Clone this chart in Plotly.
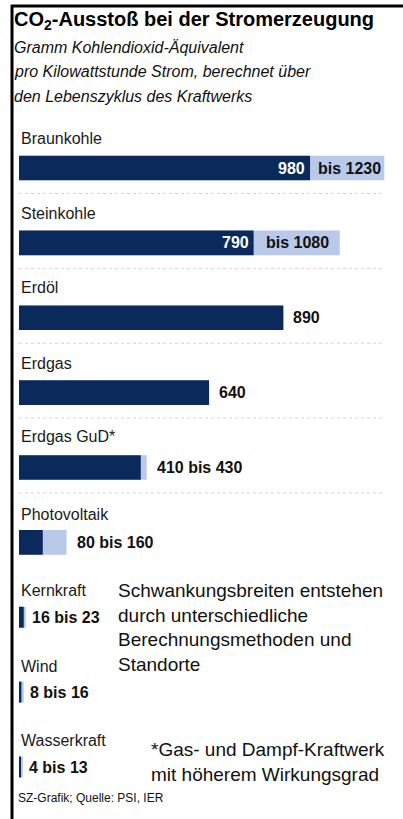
import plotly.graph_objects as go

# ---- data ----
categories = ["Braunkohle", "Steinkohle", "Erdöl", "Erdgas", "Erdgas GuD*",
              "Photovoltaik", "Kernkraft", "Wind", "Wasserkraft"]
low_values = [980, 790, 890, 640, 410, 80, 16, 8, 4]
high_values = [1230, 1080, 890, 640, 430, 160, 23, 16, 13]

# ---- styles / layout helpers ----
W, H = 403, 819
DARK = "#0b2a5c"
LIGHT = "#b9c9ea"
FONT = "Liberation Sans, Arial, sans-serif"

x0_px = 19          # pixel of value 0
px_per_unit = 0.297
top_center, step = 168, 74.875
n = len(categories)

def px(x):
    return x / W

def py(y):
    return 1 - y / H

y_top = top_center - step / 2
y_bot = top_center + step * (n - 1) + step / 2

bar_w = [0.33 if i < 6 else 0.28 for i in range(n)]
label_shift = [30, 29, 30, 29, 31, 28, 27, 26, 27]

fig = go.Figure()
fig.add_trace(go.Bar(y=categories, x=high_values, orientation="h",
                     marker=dict(color=LIGHT, line=dict(width=0)), width=bar_w,
                     hoverinfo="skip"))
fig.add_trace(go.Bar(y=categories, x=low_values, orientation="h",
                     marker=dict(color=DARK, line=dict(width=0)), width=bar_w,
                     hoverinfo="skip"))

ann = []
# category labels
for i, c in enumerate(categories):
    ann.append(dict(x=0, y=c, xref="x", yref="y", text=c, showarrow=False,
                    xanchor="left", yanchor="middle", xshift=0, yshift=label_shift[i],
                    font=dict(family=FONT, size=16, color="#1a1a1a")))
# value labels
for i, c in enumerate(categories):
    lo, hi = low_values[i], high_values[i]
    if i < 2:
        ann.append(dict(x=lo, y=c, xref="x", yref="y", text=f"<b>{lo}</b>",
                        showarrow=False, xanchor="right", xshift=-3,
                        font=dict(family=FONT, size=16, color="white")))
        ann.append(dict(x=lo, y=c, xref="x", yref="y", text=f"<b>bis {hi}</b>",
                        showarrow=False, xanchor="left", xshift=6 if i == 0 else 10,
                        font=dict(family=FONT, size=16, color="#111111")))
    else:
        txt = str(lo) if lo == hi else f"{lo} bis {hi}"
        ann.append(dict(x=hi, y=c, xref="x", yref="y", text=f"<b>{txt}</b>",
                        showarrow=False, xanchor="left", xshift=8 if i < 6 else 4,
                        font=dict(family=FONT, size=16, color="#111111")))

# title & subtitle
ann.append(dict(x=px(12), y=py(20), xref="paper", yref="paper",
                text="<b>CO<sub>2</sub>-Ausstoß bei der Stromerzeugung</b>",
                showarrow=False, xanchor="left", yanchor="middle",
                font=dict(family=FONT, size=20, color="black")))
for k, line in enumerate(["Gramm Kohlendioxid-Äquivalent",
                          "pro Kilowattstunde Strom, berechnet über",
                          "den Lebenszyklus des Kraftwerks"]):
    ann.append(dict(x=px(12), y=py(47 + 24.5 * k), xref="paper", yref="paper",
                    text=f"<i>{line}</i>", showarrow=False, xanchor="left",
                    yanchor="middle", font=dict(family=FONT, size=16, color="#111111")))

ann.append(dict(x=px(116), y=py(578), xref="paper", yref="paper",
                text="Schwankungsbreiten entstehen<br>durch unterschiedliche<br>Berechnungsmethoden und<br>Standorte",
                showarrow=False, xanchor="left", yanchor="top", align="left",
                font=dict(family=FONT, size=19, color="#111111")))
ann.append(dict(x=px(149), y=py(737), xref="paper", yref="paper",
                text="*Gas- und Dampf-Kraftwerk<br>mit höherem Wirkungsgrad",
                showarrow=False, xanchor="left", yanchor="top", align="left",
                font=dict(family=FONT, size=19, color="#111111")))
ann.append(dict(x=px(16), y=py(798), xref="paper", yref="paper",
                text="SZ-Grafik; Quelle: PSI, IER",
                showarrow=False, xanchor="left", yanchor="middle",
                font=dict(family=FONT, size=12, color="#111111")))

shapes = [
    dict(type="line", xref="paper", yref="paper", x0=px(11), x1=px(403),
         y0=py(6), y1=py(6), line=dict(color="black", width=3)),
    dict(type="line", xref="paper", yref="paper", x0=px(12), x1=px(12),
         y0=py(5), y1=py(819), line=dict(color="black", width=3)),
]
for i in range(5):
    yy = top_center + step * (i + 0.34)
    shapes.append(dict(type="line", xref="paper", yref="paper", x0=px(19), x1=px(385),
                       y0=py(yy), y1=py(yy),
                       line=dict(color="#d4d4d4", width=1, dash="dot")))

fig.update_layout(
    width=W, height=H, margin=dict(l=0, r=0, t=0, b=0),
    paper_bgcolor="white", plot_bgcolor="white",
    barmode="overlay", showlegend=False,
    xaxis=dict(range=[-x0_px / px_per_unit, (W - x0_px) / px_per_unit],
               domain=[0, 1], visible=False, fixedrange=True),
    yaxis=dict(categoryorder="array", categoryarray=categories,
               range=[n - 0.5, -0.5], domain=[py(y_bot), py(y_top)],
               visible=False, fixedrange=True),
    annotations=ann, shapes=shapes,
)

fig.write_html("out.html", config={"displayModeBar": False})
